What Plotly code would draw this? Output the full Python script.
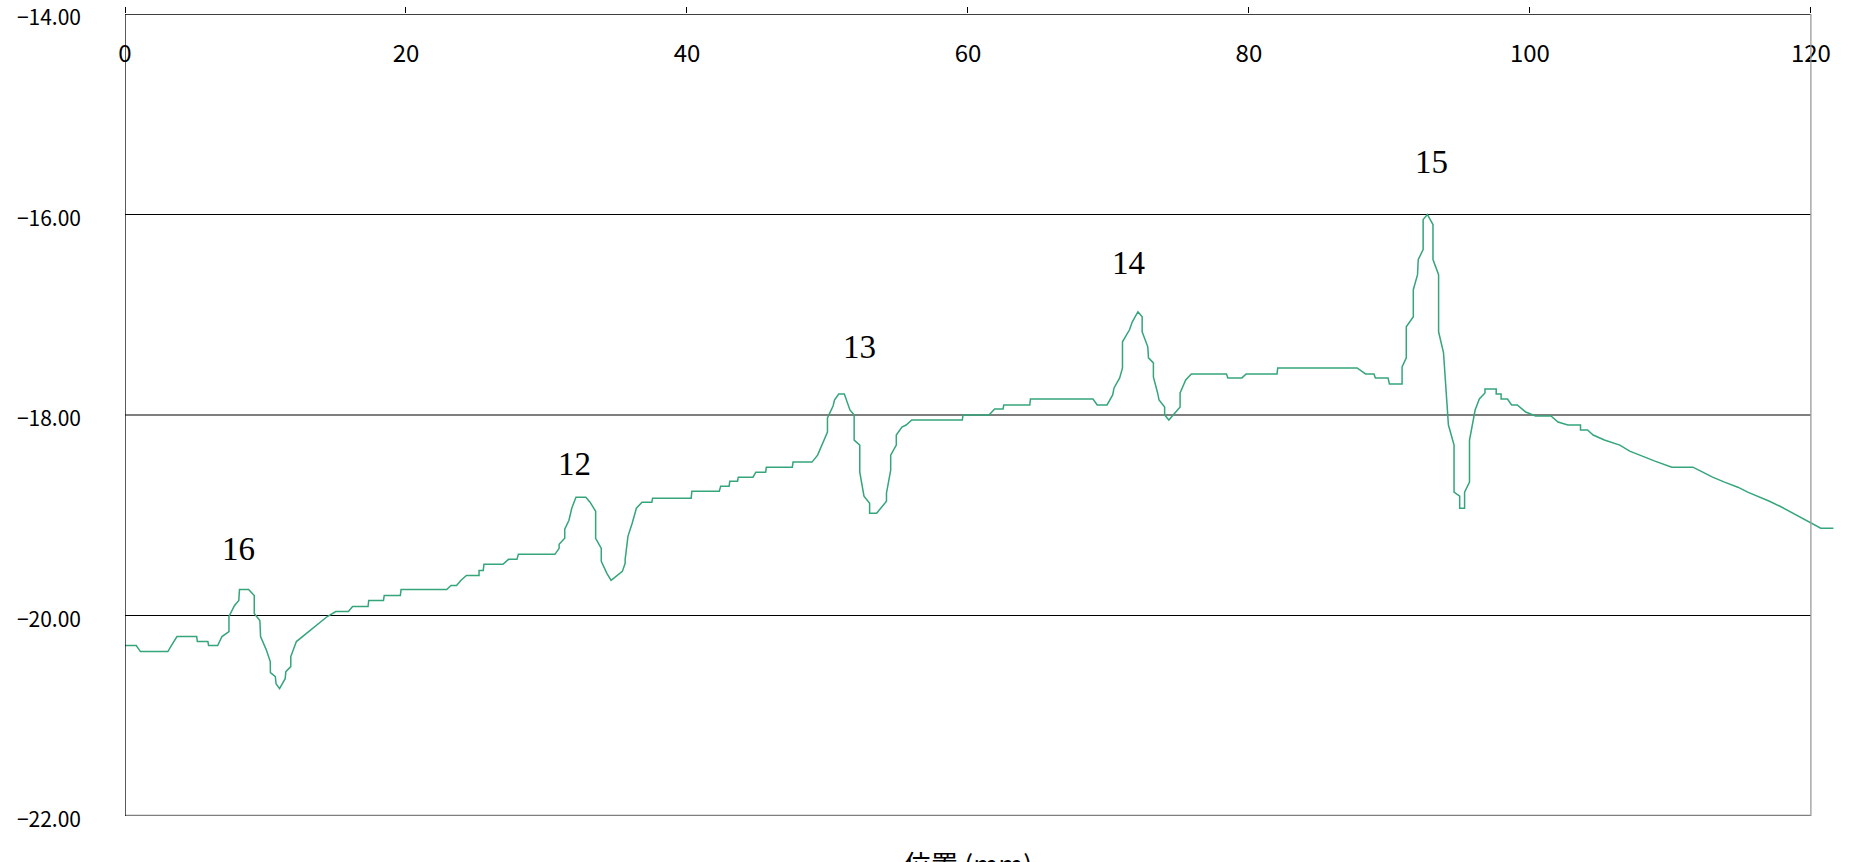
import plotly.graph_objects as go

# ---- data ----
pos_mm = [0, 0.8, 1.1, 3.05, 3.3, 3.7, 5.1, 5.15, 5.9, 5.95, 6.6, 6.9, 7.4, 7.4, 7.8, 8.1, 8.15, 8.8,
          9.2, 9.2, 9.6, 9.65, 10.05, 10.34, 10.35, 10.7, 10.75, 11.0, 11.4, 11.45, 11.8, 11.8, 12.2,
          14.0, 14.4, 15.0, 15.9, 16.2, 17.3, 17.35, 18.4, 18.45, 19.6, 19.65, 22.9,
          23.2, 23.6, 23.9, 24.3, 25.2, 25.2, 25.5, 25.55, 26.9, 27.3, 27.9, 28.0, 30.6, 30.9, 30.9,
          31.3, 31.3, 31.6, 31.8, 32.1, 32.8, 33.1, 33.5, 33.5, 33.9, 33.9, 34.3, 34.6, 35.4, 35.6,
          35.6, 35.8, 36.1, 36.4, 36.8, 37.5, 37.55, 40.3, 40.35, 42.3, 42.4, 43.0, 43.05, 43.6, 43.65,
          44.7, 44.9, 45.6, 45.65, 47.5, 47.55, 48.9, 49.3, 49.6, 50.0, 50.0, 50.4, 50.5, 50.8, 51.2,
          51.6, 51.9, 51.9, 52.3, 52.3, 52.6, 53.0, 53.0, 53.5, 54.2, 54.2, 54.5, 54.5, 54.9, 54.9,
          55.3, 55.6, 56.0, 59.6, 59.65, 61.5, 61.9, 62.5, 62.55, 64.4, 64.45, 68.9, 69.2, 69.9,
          70.3, 70.4, 70.8, 71.0, 71.0, 71.5, 71.7, 72.0, 72.1, 72.4, 72.4, 72.8, 72.85, 73.2, 73.2,
          73.5, 73.6, 74.0, 74.0, 74.3, 74.6, 75.1, 75.1, 75.5, 75.9, 78.4, 78.5, 79.5, 79.8, 82.0,
          82.05, 87.7, 88.3, 88.9, 89.0, 89.9, 90.0, 90.9, 90.9, 91.2, 91.2, 91.7, 91.7, 92.0, 92.05,
          92.4, 92.4, 92.7, 93.1, 93.1, 93.5, 93.5, 93.85, 94.2, 94.6, 94.6, 95.0, 95.0, 95.35, 95.35,
          95.7, 95.7, 96.1, 96.4, 96.8, 96.8, 97.6, 97.6, 97.95, 97.95, 98.4, 98.7, 99.1, 99.7, 100.4,
          101.5, 102.0, 102.7, 103.6, 103.6, 104.1, 104.5, 105.3, 106.4, 107.1, 107.8, 108.9, 110.1,
          111.6, 112.3, 113.0, 113.85, 114.8, 115.5, 116.2, 117.05, 117.8, 118.6, 119.3, 120.0, 120.7,
          121.6]
value = [-20.30, -20.30, -20.36, -20.36, -20.30, -20.21, -20.21, -20.26, -20.26, -20.30, -20.30,
         -20.21, -20.16, -20.01, -19.90, -19.85, -19.74, -19.74,
         -19.80, -19.98, -20.05, -20.21, -20.34, -20.46, -20.57, -20.61, -20.68, -20.73, -20.63, -20.56,
         -20.51, -20.41, -20.26,
         -20.05, -20.01, -19.96, -19.96, -19.91, -19.91, -19.85, -19.85, -19.80, -19.80, -19.74, -19.74,
         -19.70, -19.70, -19.65, -19.60, -19.60, -19.55, -19.55, -19.49, -19.49, -19.44, -19.44, -19.39,
         -19.39, -19.33, -19.29,
         -19.23, -19.14, -19.05, -18.93, -18.82, -18.82, -18.87, -18.96, -19.23, -19.33, -19.46, -19.58,
         -19.65, -19.56, -19.48,
         -19.44, -19.21, -19.08, -18.93, -18.87, -18.87, -18.83, -18.83, -18.76, -18.76, -18.71, -18.71,
         -18.66, -18.66, -18.62,
         -18.62, -18.57, -18.57, -18.52, -18.52, -18.47, -18.47, -18.40, -18.30, -18.17, -18.03, -17.91,
         -17.85, -17.79, -17.79,
         -17.95, -18.00, -18.25, -18.30, -18.57, -18.81, -18.88, -18.98, -18.98, -18.86, -18.78, -18.55,
         -18.40, -18.30, -18.20,
         -18.12, -18.10, -18.05, -18.05, -18.00, -18.00, -17.94, -17.94, -17.90, -17.90, -17.84, -17.84,
         -17.90, -17.90,
         -17.80, -17.73, -17.63, -17.53, -17.27, -17.15, -17.07, -16.99, -16.97, -17.02, -17.17, -17.32,
         -17.43, -17.48, -17.62,
         -17.78, -17.85, -17.92, -18.00, -18.05, -18.00, -17.92, -17.78, -17.65, -17.59, -17.59, -17.63,
         -17.63, -17.59, -17.59,
         -17.53, -17.53, -17.59, -17.59, -17.63, -17.63, -17.69, -17.69, -17.52, -17.43, -17.12, -17.02,
         -16.75, -16.60, -16.45,
         -16.35, -16.05, -16.00, -16.10, -16.45, -16.60, -17.17, -17.38, -18.10, -18.30, -18.77, -18.81,
         -18.93, -18.93, -18.77,
         -18.67, -18.25, -17.95, -17.84, -17.78, -17.74, -17.74, -17.79, -17.79, -17.84, -17.84, -17.90,
         -17.90, -17.97, -18.01,
         -18.01, -18.07, -18.10, -18.10, -18.15, -18.15, -18.20, -18.25, -18.30, -18.36, -18.40, -18.46,
         -18.52,
         -18.52, -18.57, -18.62, -18.67, -18.72, -18.77, -18.81, -18.86, -18.91, -18.97, -19.02, -19.08,
         -19.13,
         -19.13]

label_text = ["16", "12", "13", "14", "15"]
label_x = [8.05, 31.98, 52.3, 71.4, 92.96]
label_y = [-19.34, -18.49, -17.32, -16.48, -15.48]

x_ticks = [0, 20, 40, 60, 80, 100, 120]
y_ticks = [-22, -20, -18, -16, -14]
x_title = "位置 (mm)"

# ---- figure ----
fig = go.Figure()
fig.add_trace(go.Scatter(x=pos_mm, y=value, mode="lines",
                         line=dict(color="#35A57A", width=1.5), showlegend=False,
                         hoverinfo="skip"))

for t, lx, ly in zip(label_text, label_x, label_y):
    fig.add_annotation(x=lx, y=ly, text=t, showarrow=False,
                       font=dict(family="Liberation Serif", size=33, color="black"))

# frame and grid lines, stopping at x = 120
x_end = x_ticks[-1]
for yv in y_ticks[1:-1]:
    fig.add_shape(type="line", x0=0, x1=x_end, y0=yv, y1=yv, xref="x", yref="y",
                  line=dict(color="black", width=1.2), layer="below")
fig.add_shape(type="line", x0=0, x1=x_end, y0=-14, y1=-14, xref="x", yref="y",
              line=dict(color="black", width=1.3))
fig.add_shape(type="line", x0=0, x1=x_end, y0=-22, y1=-22, xref="x", yref="y",
              line=dict(color="#7f7f7f", width=2.5))
fig.add_shape(type="line", x0=0, x1=0, y0=-22, y1=-14, xref="x", yref="y",
              line=dict(color="black", width=1.3))
fig.add_shape(type="line", x0=x_end, x1=x_end, y0=-22, y1=-14, xref="x", yref="y",
              line=dict(color="#9a9a9a", width=1.3))

fig.add_annotation(x=60, xref="x", y=-0.033, yref="paper", yanchor="top",
                   text=x_title, showarrow=False,
                   font=dict(family="Noto Sans CJK JP", size=27, color="black"))

fig.update_layout(
    width=1855, height=862,
    margin=dict(l=125, r=16, t=14, b=46),
    paper_bgcolor="white", plot_bgcolor="white",
    xaxis=dict(range=[0, 122], side="top", tickvals=x_ticks, showgrid=False, zeroline=False,
               showline=False, ticks="outside", ticklen=6, tickcolor="black", tickwidth=1,
               ticklabelposition="inside", ticklabeloverflow="allow", ticklabelstandoff=28,
               automargin=False,
               tickfont=dict(family="Noto Sans CJK JP", size=24, color="black")),
    yaxis=dict(range=[-22, -14], tickvals=y_ticks, tickformat=".2f", showgrid=False,
               zeroline=False, showline=False, ticks="", ticklabelstandoff=43,
               ticklabelshift=4, ticklabeloverflow="allow", automargin=False,
               tickfont=dict(family="Noto Sans CJK JP", size=21, color="black")),
)

fig.write_html("out.html", config={"displayModeBar": False},
               post_script="document.body.style.margin='0';document.body.style.overflow='hidden';")
